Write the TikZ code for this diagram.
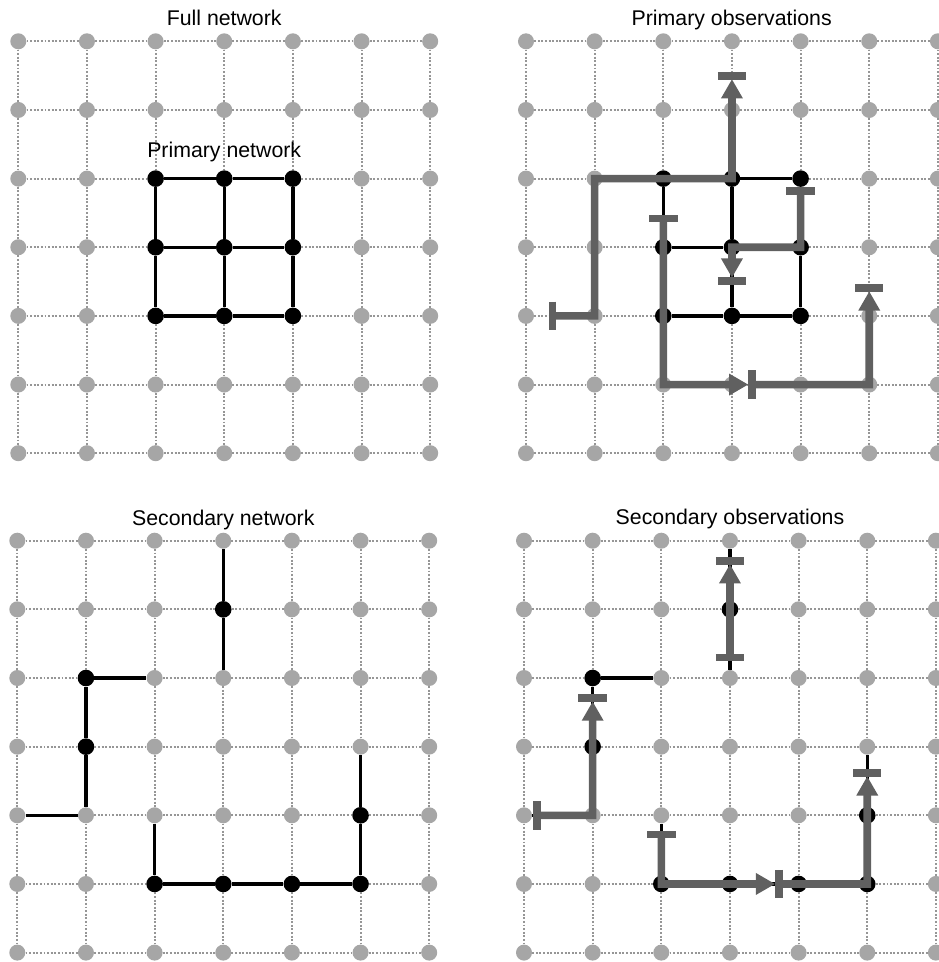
\documentclass[tikz,border=0pt]{standalone}
\usepackage{fontspec}
\setmainfont{Liberation Sans}
\usetikzlibrary{calc}
\definecolor{nodegray}{RGB}{166,166,166}
\definecolor{dotgray}{RGB}{150,150,150}
\definecolor{obsgray}{RGB}{96,96,96}
\tikzset{
  gnode/.style={circle,fill=nodegray,draw=none,inner sep=0pt,minimum size=16pt},
  bnode/.style={circle,fill=black,draw=none,inner sep=0pt,minimum size=16.6pt},
  dotline/.style={draw=dotgray,line width=2.1pt,dash pattern=on 1.9pt off 1.7pt},
  netline/.style={draw=black,line width=3.4pt},
  obs/.style={draw=obsgray,line width=7.6pt,line join=miter,line cap=butt},
  obsarrow/.style={obs,shorten >=11pt},
  obsbar/.style={draw=obsgray,line width=7.8pt,line cap=butt},
  obstip/.style={fill=obsgray,draw=none},
  title/.style={font=\fontsize{21.3}{25}\selectfont,anchor=base,inner sep=0pt}
}
% arrow heads: tip just before the bar
\newcommand\tipup[1]{\fill[obstip] ($(#1)+(0,3.8)$) -- ++(-11,19) -- ++(22,0) -- cycle;}
\newcommand\tipdown[1]{\fill[obstip] ($(#1)+(0,-3.8)$) -- ++(-11,-19) -- ++(22,0) -- cycle;}
\newcommand\tipright[1]{\fill[obstip] ($(#1)+(-3.8,0)$) -- ++(-19,-11) -- ++(0,22) -- cycle;}
\newcommand\hbarat[1]{\draw[obsbar] ($(#1)+(-14.2,0)$) -- ($(#1)+(14.2,0)$);}
\newcommand\vbarat[1]{\draw[obsbar] ($(#1)+(0,-14.2)$) -- ($(#1)+(0,14.2)$);}
\makeatletter
\newcommand\mkgrid[4]{%
  \foreach \c in {0,...,6}{%
    \foreach \r in {0,...,6}{%
      \edef\tmpkey{,\c-\r,}%
      \expandafter\in@\expandafter{\tmpkey}{,#4,}%
      \ifin@
        \node[bnode] (#1-\c-\r) at ({#2+\c*68.65},{#3+\r*68.65}) {};
      \else
        \node[gnode] (#1-\c-\r) at ({#2+\c*68.65},{#3+\r*68.65}) {};
      \fi
    }%
  }%
  \foreach \c [evaluate=\c as \cn using int(\c+1)] in {0,...,5}{%
    \foreach \r in {0,...,6}{%
      \draw[dotline] (#1-\c-\r) -- (#1-\cn-\r);
      \draw[dotline] (#1-\r-\c) -- (#1-\r-\cn);
    }%
  }%
}
\makeatother
\newcommand\primnet[1]{%
  \draw[netline] (#1-2-2) -- (#1-3-2) -- (#1-4-2);
  \draw[netline] (#1-2-3) -- (#1-3-3) -- (#1-4-3);
  \draw[netline] (#1-2-4) -- (#1-3-4) -- (#1-4-4);
  \draw[netline] (#1-2-2) -- (#1-2-3) -- (#1-2-4);
  \draw[netline] (#1-3-2) -- (#1-3-3) -- (#1-3-4);
  \draw[netline] (#1-4-2) -- (#1-4-3) -- (#1-4-4);
}
\newcommand\secnet[1]{%
  \draw[netline] (#1-3-0) -- (#1-3-1) -- (#1-3-2);
  \draw[netline] (#1-1-2) -- (#1-2-2);
  \draw[netline] (#1-1-2) -- (#1-1-3) -- (#1-1-4);
  \draw[netline] (#1-0-4) -- (#1-1-4);
  \draw[netline] (#1-2-4) -- (#1-2-5);
  \draw[netline] (#1-2-5) -- (#1-3-5) -- (#1-4-5) -- (#1-5-5);
  \draw[netline] (#1-5-3) -- (#1-5-4) -- (#1-5-5);
}
\begin{document}
\begin{tikzpicture}[x=1pt,y=-1pt]
\clip (0,0) rectangle (939,962);
\fill[white] (0,0) rectangle (939,962);

% grids
\mkgrid{TL}{18.3}{41.3}{2-2,3-2,4-2,2-3,3-3,4-3,2-4,3-4,4-4}
\mkgrid{TR}{526}{41.3}{2-2,3-2,4-2,2-3,3-3,4-3,2-4,3-4,4-4}
\mkgrid{BL}{17.3}{540.7}{3-1,1-2,1-3,2-5,3-5,4-5,5-5,5-4}
\mkgrid{BR}{524}{540.7}{3-1,1-2,1-3,2-5,3-5,4-5,5-5,5-4}

% networks
\primnet{TL}
\primnet{TR}
\secnet{BL}
\secnet{BR}

% titles
\node[title] (t1) at (224.2,25) {Full network};
\node[title] (t2) at (224.2,157) {Primary network};
\node[title] (t3) at (731.7,25) {Primary observations};
\node[title] (t4) at (223.3,525) {Secondary network};
\node[title] (t5) at (730,524.5) {Secondary observations};

% primary observations
\coordinate (s1) at ($(TR-0-4.center)!0.386!(TR-1-4.center)$);
\coordinate (e1) at ($(TR-3-1.center)!0.5!(TR-3-0.center)$);
\coordinate (s2) at ($(TR-2-2.center)!0.58!(TR-2-3.center)$);
\coordinate (e2) at ($(TR-3-5.center)!0.29!(TR-4-5.center)$);
\coordinate (e3) at ($(TR-5-4.center)!0.41!(TR-5-3.center)$);
\coordinate (s4) at ($(TR-4-2.center)!0.185!(TR-4-3.center)$);
\coordinate (e4) at ($(TR-3-3.center)!0.495!(TR-3-4.center)$);

\draw[obsarrow] (s1) -- (TR-1-4.center) -- (TR-1-2.center) -- (TR-3-2.center) -- (e1);
\draw[obsarrow] (s2) -- (TR-2-5.center) -- (e2);
\draw[obsarrow] (e2) -- (TR-5-5.center) -- (e3);
\draw[obsarrow] (s4) -- (TR-4-3.center) -- (TR-3-3.center) -- (e4);

\tipup{e1} \tipright{e2} \tipup{e3} \tipdown{e4}
\vbarat{s1} \hbarat{e1} \hbarat{s2} \vbarat{e2} \hbarat{e3} \hbarat{s4} \hbarat{e4}

% secondary observations
\coordinate (sa) at ($(BR-3-2.center)!0.30!(BR-3-1.center)$);
\coordinate (ea) at ($(BR-3-0.center)!0.29!(BR-3-1.center)$);
\coordinate (sb) at ($(BR-0-4.center)!0.185!(BR-1-4.center)$);
\coordinate (eb) at ($(BR-1-2.center)!0.29!(BR-1-3.center)$);
\coordinate (sc) at ($(BR-2-4.center)!0.28!(BR-2-5.center)$);
\coordinate (ec) at ($(BR-3-5.center)!0.71!(BR-4-5.center)$);
\coordinate (ed) at ($(BR-5-4.center)!0.62!(BR-5-3.center)$);

\draw[obsarrow] (sa) -- (ea);
\draw[obsarrow] (sb) -- (BR-1-4.center) -- (eb);
\draw[obsarrow] (sc) -- (BR-2-5.center) -- (ec);
\draw[obsarrow] (ec) -- (BR-5-5.center) -- (ed);

\tipup{ea} \tipup{eb} \tipright{ec} \tipup{ed}
\hbarat{sa} \hbarat{ea} \vbarat{sb} \hbarat{eb} \hbarat{sc} \vbarat{ec} \hbarat{ed}
\end{tikzpicture}
\end{document}
